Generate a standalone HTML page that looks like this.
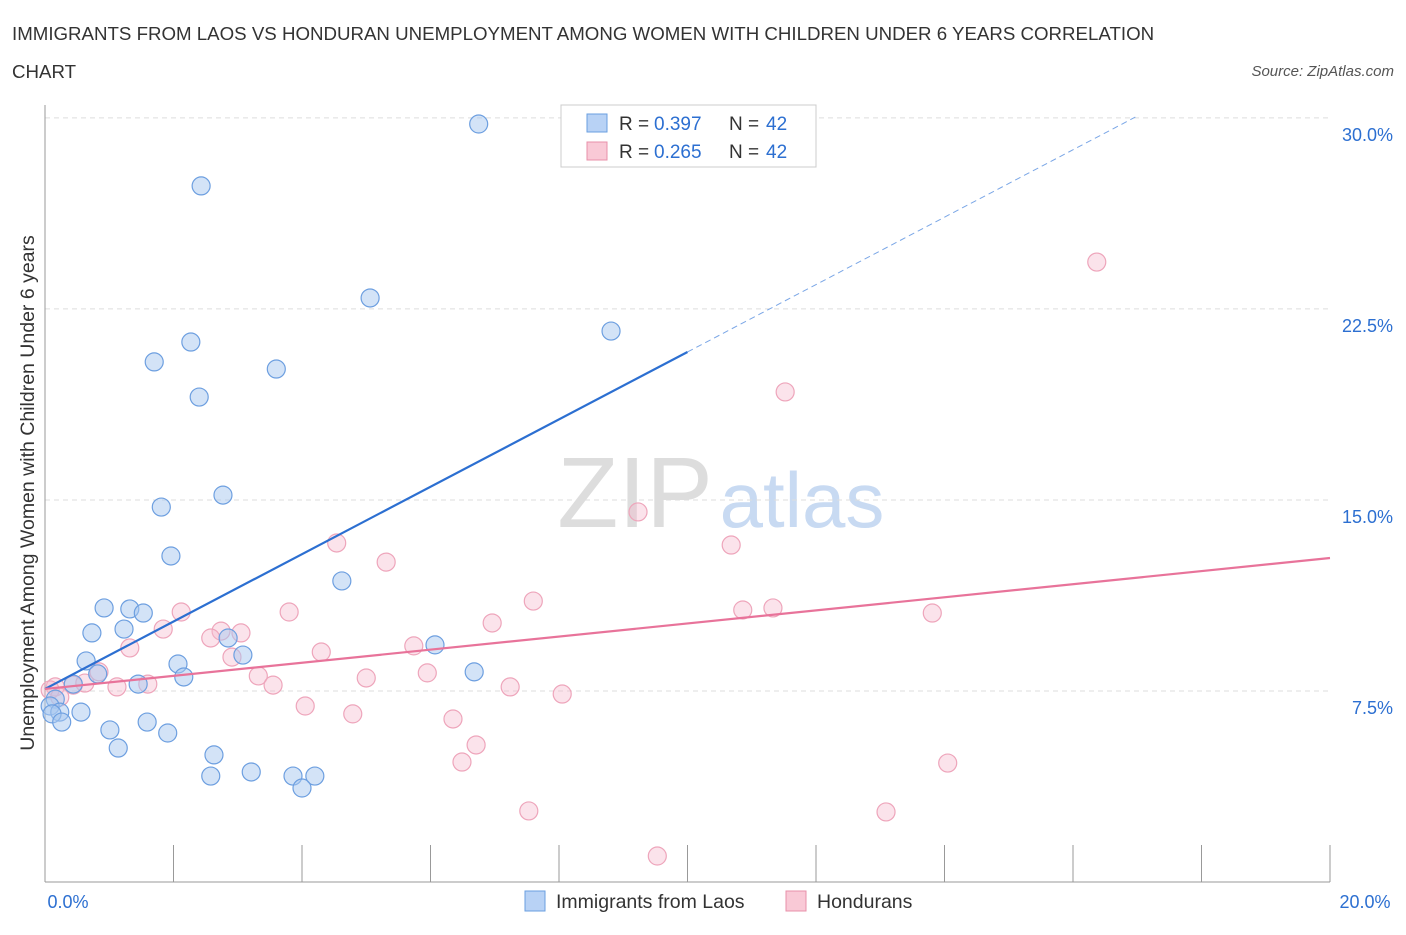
<!DOCTYPE html>
<html><head><meta charset="utf-8"><style>
body{margin:0;background:#fff;font-family:"Liberation Sans",sans-serif;}
svg text{font-family:"Liberation Sans",sans-serif;}
</style></head><body>
<svg id="chart" width="1406" height="930" xmlns="http://www.w3.org/2000/svg">
<text x="12" y="40" font-size="18.7" fill="#333">IMMIGRANTS FROM LAOS VS HONDURAN UNEMPLOYMENT AMONG WOMEN WITH CHILDREN UNDER 6 YEARS CORRELATION</text>
<text x="12" y="78" font-size="18.7" fill="#333">CHART</text>
<text x="1394" y="76" font-size="15" fill="#555" font-style="italic" text-anchor="end">Source: ZipAtlas.com</text>
<text transform="translate(34,493) rotate(-90)" font-size="19.5" fill="#333" text-anchor="middle">Unemployment Among Women with Children Under 6 years</text>
<g>
<text x="635" y="527" font-size="100" fill="#ddd" font-family="Liberation Serif" text-anchor="middle">ZIP</text>
<text x="802" y="527" font-size="78" fill="#c8daf2" text-anchor="middle">atlas</text>
</g>
<g id="grid"></g><g id="axes"></g><g id="marks"></g>
<g>
<rect x="561" y="105" width="255" height="62" fill="#fff" stroke="#ccc"/>
<rect x="587" y="114" width="20" height="18" fill="#b8d2f5" stroke="#6a9fe0"/>
<text x="619" y="130" font-size="19" fill="#333">R = </text>
<text x="654" y="130" font-size="19" fill="#2c6fd1">0.397</text>
<text x="729" y="130" font-size="19" fill="#333">N = </text>
<text x="766" y="130" font-size="19" fill="#2c6fd1">42</text>
<rect x="587" y="142" width="20" height="18" fill="#f9c9d6" stroke="#e890aa"/>
<text x="619" y="158" font-size="19" fill="#333">R = </text>
<text x="654" y="158" font-size="19" fill="#2c6fd1">0.265</text>
<text x="729" y="158" font-size="19" fill="#333">N = </text>
<text x="766" y="158" font-size="19" fill="#2c6fd1">42</text>
</g>
<g>
<rect x="525" y="891" width="20" height="20" fill="#b8d2f5" stroke="#6a9fe0"/>
<text x="556" y="908" font-size="19.5" fill="#333">Immigrants from Laos</text>
<rect x="786" y="891" width="20" height="20" fill="#f9c9d6" stroke="#e890aa"/>
<text x="817" y="908" font-size="19.5" fill="#333">Hondurans</text>
</g>
</svg>
<script>
const yTicks=[7.5,15,22.5,30];
const yTickLabels=["7.5%","15.0%","22.5%","30.0%"];
const xTicks=[0,2,4,6,8,10,12,14,16,18,20];
const blueX=[6.75,2.43,5.06,8.81,2.27,1.70,3.60,2.40,2.77,1.81,1.96,4.62,0.92,1.32,1.53,0.73,1.23,2.85,3.08,6.07,0.64,2.07,6.68,2.16,0.82,1.45,0.44,0.16,0.08,0.23,0.56,0.11,0.26,1.59,1.01,1.91,1.14,2.63,2.58,3.21,3.86,4.20,4.00];
const blueY=[29.76,27.33,22.93,21.63,21.20,20.42,20.14,19.04,15.19,14.72,12.80,11.82,10.76,10.72,10.56,9.78,9.93,9.58,8.91,9.31,8.68,8.56,8.25,8.05,8.17,7.77,7.77,7.18,6.91,6.67,6.67,6.60,6.28,6.28,5.97,5.85,5.26,4.99,4.16,4.32,4.16,4.16,3.69];
const pinkX=[16.37,11.52,9.23,4.54,10.68,5.31,7.60,10.86,11.33,13.81,3.80,2.12,6.96,1.84,2.74,3.05,2.58,1.32,5.74,4.30,2.91,5.95,3.32,5.00,0.84,0.16,0.44,0.62,1.60,1.12,3.55,7.24,8.05,4.05,4.79,6.35,6.71,6.49,14.05,7.53,13.09,9.53,0.08,0.23];
const pinkY=[24.34,19.24,14.53,13.31,13.23,12.56,11.03,10.68,10.76,10.56,10.60,10.60,10.17,9.93,9.85,9.78,9.58,9.19,9.27,9.03,8.83,8.21,8.09,8.01,8.25,7.66,7.73,7.81,7.77,7.66,7.73,7.66,7.38,6.91,6.60,6.40,5.38,4.71,4.67,2.79,2.75,1.02,7.54,7.26];
const blueFit=[7.58,1.323];
const pinkFit=[7.58,0.257];
const NS="http://www.w3.org/2000/svg";
const X=v=>45+v*64.25, Y=v=>882-v*25.47;
function mk(tag,attrs,parent){const e=document.createElementNS(NS,tag);for(const k in attrs)e.setAttribute(k,attrs[k]);document.getElementById(parent).appendChild(e);return e;}
yTicks.forEach((t,i)=>{
 const g=mk('line',{x1:45,x2:1330,y1:Y(t),y2:Y(t),stroke:'#ddd','stroke-dasharray':'5,4'},'grid');
 
 
 const l=mk('text',{x:1393,y:Y(t)+23,'font-size':18,fill:'#2c6fd1','text-anchor':'end'},'axes');l.textContent=yTickLabels[i];
 
 
});
const ax=mk('line',{x1:45,x2:45,y1:105,y2:882,stroke:'#999'},'axes');


const bx=mk('line',{x1:45,x2:1330,y1:882,y2:882,stroke:'#999'},'axes');


xTicks.forEach(t=>{const k=mk('line',{x1:X(t),x2:X(t),y1:845,y2:882,stroke:'#999'},'axes');
 
 });
const x0=mk('text',{x:68,y:908,'font-size':18,fill:'#2c6fd1','text-anchor':'middle'},'axes');x0.textContent='0.0%';


const x1=mk('text',{x:1365,y:908,'font-size':18,fill:'#2c6fd1','text-anchor':'middle'},'axes');x1.textContent='20.0%';


pinkX.forEach((v,i)=>{const c=mk('circle',{cx:X(v),cy:Y(pinkY[i]),r:9,fill:'rgba(246,185,205,0.4)',stroke:'#eea5bb','stroke-width':1.2},'marks');
 
 });
blueX.forEach((v,i)=>{const c=mk('circle',{cx:X(v),cy:Y(blueY[i]),r:9,fill:'rgba(168,200,240,0.5)',stroke:'#6d9fe0','stroke-width':1.2},'marks');
 
 });
const bl=mk('line',{x1:X(0),y1:Y(blueFit[0]),x2:X(10),y2:Y(blueFit[0]+blueFit[1]*10),stroke:'#2c6fd1','stroke-width':2.2},'marks');


const bd=mk('line',{x1:X(10),y1:Y(blueFit[0]+blueFit[1]*10),x2:X(16.97),y2:Y(blueFit[0]+blueFit[1]*16.97),stroke:'#7aa6e6','stroke-width':1,'stroke-dasharray':'6,4'},'marks');


const pl=mk('line',{x1:X(0),y1:Y(pinkFit[0]),x2:X(20),y2:Y(pinkFit[0]+pinkFit[1]*20),stroke:'#e8739a','stroke-width':2.2},'marks');


</script>
</body></html>
